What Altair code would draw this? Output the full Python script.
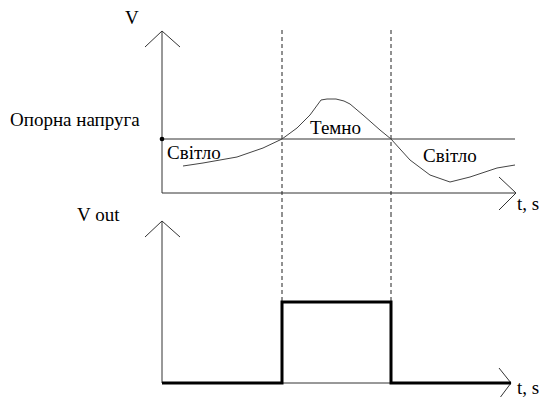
import altair as alt
import pandas as pd

# ---------------- data (t in arbitrary time units, V in arbitrary volts) ----------------
# input signal (top panel)
curve_t = [2.1, 4.1, 7.5, 10.1, 12.0, 13.5, 14.8, 15.9, 16.5, 17.4, 18.2, 18.8, 20.1, 21.8, 22.9, 24.8, 26.8, 28.8, 30.8, 33.5, 35.3]
curve_v = [2.7, 3.0, 3.6, 4.5, 5.4, 6.5, 7.8, 9.3, 9.4, 9.4, 9.2, 8.9, 7.8, 6.3, 5.4, 3.3, 1.8, 1.1, 1.6, 2.5, 2.8]
v_ref = 5.4                 # reference voltage ("Опорна напруга")
t_cross = [12.0, 22.9]      # threshold crossing times
# output signal (bottom panel)
pulse_t = [0.0, 12.0, 12.0, 22.9, 22.9, 34.9]
pulse_v = [0.0, 0.0, 8.1, 8.1, 0.0, 0.0]

# axes of both panels (segment id, t, v)
top_axes_seg = ["ya", "ya", "yh", "yh", "yh", "xa", "xa", "xh", "xh", "xh", "ref", "ref"]
top_axes_t = [0, 0, -1.7, 0, 1.8, 0, 35.4, 33.7, 35.4, 33.7, 0, 35.3]
top_axes_v = [0, 16.2, 14.6, 16.2, 14.6, 0, 0, 1.6, 0, -1.7, v_ref, v_ref]
bot_axes_seg = ["ya", "ya", "yh", "yh", "yh", "xa", "xa", "xh", "xh", "xh"]
bot_axes_t = [0, 0, -1.7, 0, 1.8, 0, 34.9, 33.7, 34.9, 33.7]
bot_axes_v = [0, 16.2, 14.6, 16.2, 14.6, 0, 0, 1.5, 0, -1.6]

top_labels = ["V", "Опорна напруга", "Світло", "Темно", "Світло", "t, s"]
top_label_t = [-3.7, -15.2, 0.5, 14.8, 26.1, 35.5]
top_label_v = [17.5, 7.3, 4.0, 6.5, 3.7, -1.1]
bot_labels = ["V out", "t, s"]
bot_label_t = [-8.5, 35.5]
bot_label_v = [16.8, -0.5]

# ---------------- tables ----------------
curve = pd.DataFrame({"t": curve_t, "v": curve_v, "i": range(len(curve_t))})
pulse = pd.DataFrame({"t": pulse_t, "v": pulse_v, "i": range(len(pulse_t))})
top_axes = pd.DataFrame({"seg": top_axes_seg, "t": top_axes_t, "v": top_axes_v, "i": range(len(top_axes_t))})
bot_axes = pd.DataFrame({"seg": bot_axes_seg, "t": bot_axes_t, "v": bot_axes_v, "i": range(len(bot_axes_t))})
top_txt = pd.DataFrame({"label": top_labels, "t": top_label_t, "v": top_label_v})
bot_txt = pd.DataFrame({"label": bot_labels, "t": bot_label_t, "v": bot_label_v})
dot = pd.DataFrame({"t": [0.0], "v": [v_ref]})
dash_top = pd.DataFrame({"t": t_cross, "v": [16.3, 16.3], "v2": [-2.0, -2.0]})
dash_bot = pd.DataFrame({"t": t_cross, "v": [17.0, 17.0], "v2": [8.1, 8.1]})

W, H = 532, 389
X = alt.X("t:Q", scale=alt.Scale(domain=[-15.4, 37.8], nice=False, zero=False), axis=None)
sc_top = alt.Scale(domain=[-2.0, 18.5], range=[205, 0], nice=False, zero=False)
sc_bot = alt.Scale(domain=[-1.4, 17.0], range=[H, 205], nice=False, zero=False)
YT = alt.Y("v:Q", scale=sc_top, axis=None)
YB = alt.Y("v:Q", scale=sc_bot, axis=None)

FONT = "'Liberation Serif', 'Times New Roman', serif"
FS = 19

layers = [
    # top panel
    alt.Chart(top_axes).mark_line(color="#333", strokeWidth=1).encode(
        x=X, y=YT, detail="seg:N", order="i:Q"),
    alt.Chart(dash_top).mark_rule(color="#222", strokeWidth=1, strokeDash=[4, 3]).encode(
        x=X, y=YT, y2="v2:Q"),
    alt.Chart(curve).mark_line(color="#444", strokeWidth=1).encode(
        x=X, y=YT, order="i:Q"),
    alt.Chart(dot).mark_point(filled=True, color="black", size=22, opacity=1).encode(
        x=X, y=YT),
    alt.Chart(top_txt).mark_text(align="left", baseline="middle", font=FONT, fontSize=FS, color="black").encode(
        x=X, y=YT, text="label:N"),
    # bottom panel
    alt.Chart(bot_axes).mark_line(color="#333", strokeWidth=1).encode(
        x=X, y=YB, detail="seg:N", order="i:Q"),
    alt.Chart(dash_bot).mark_rule(color="#222", strokeWidth=1, strokeDash=[4, 3]).encode(
        x=X, y=YB, y2="v2:Q"),
    alt.Chart(pulse).mark_line(color="black", strokeWidth=3, strokeJoin="miter").encode(
        x=X, y=YB, order="i:Q"),
    alt.Chart(bot_txt).mark_text(align="left", baseline="middle", font=FONT, fontSize=FS, color="black").encode(
        x=X, y=YB, text="label:N"),
]

chart = alt.layer(*layers).resolve_scale(y="independent").properties(
    width=W, height=H,
    autosize=alt.AutoSizeParams(type="none"),
    padding={"left": 0, "top": 0, "right": 0, "bottom": 0},
).configure_view(stroke=None)

chart.save("out.html", embed_options={"renderer": "svg", "actions": False})
